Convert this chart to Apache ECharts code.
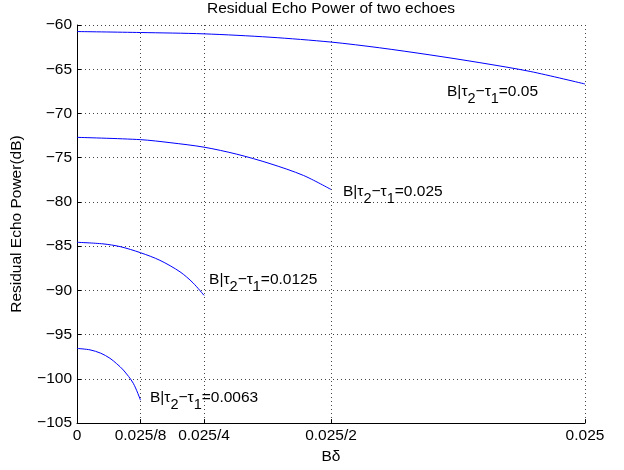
<!DOCTYPE html>
<html>
<head>
<meta charset="utf-8">
<script src="https://cdn.jsdelivr.net/npm/echarts@6/dist/echarts.min.js"></script>
<style>
  html, body { margin: 0; padding: 0; background: #fff; }
  #chart { width: 624px; height: 470px; }
</style>
</head>
<body>
<div id="chart"></div>
<script>
// Tick positions and their labels on the Bδ axis
const xTicks = [0, 0.003125, 0.00625, 0.0125, 0.025];
const xTickLabels = ['0', '0.025/8', '0.025/4', '0.025/2', '0.025'];

// Residual echo power (dB) versus Bδ for each echo spacing
const bdA = [0, 0.003125, 0.00625, 0.0095, 0.0125, 0.0149, 0.01737, 0.01983, 0.0223, 0.025];
const pwrA = [-60.74, -60.85, -61.0, -61.38, -61.93, -62.58, -63.38, -64.26, -65.25, -66.67];

const bdB = [0, 0.003125, 0.00458, 0.00625, 0.00786, 0.0095, 0.01114, 0.0125];
const pwrB = [-72.7, -72.96, -73.3, -73.81, -74.6, -75.67, -77.0, -78.59];

const bdC = [0, 0.00128, 0.00212, 0.003125, 0.00408, 0.00507, 0.00571, 0.00625];
const pwrC = [-84.56, -84.74, -85.05, -85.74, -86.6, -87.9, -89.15, -90.56];

const bdD = [0, 0.00064, 0.00117, 0.00162, 0.00194, 0.00228, 0.00277, 0.003125];
const pwrD = [-96.56, -96.72, -97.1, -97.67, -98.26, -99.0, -100.5, -102.41];

// Spacing values written next to each curve, with the label anchor in data units
const spacings = ['0.05', '0.025', '0.0125', '0.0063'];
const labelAt = [[0.01821, -67.67], [0.01309, -78.96], [0.0065, -88.85], [0.00359, -102.2]];

const FONT = 'Liberation Sans, Arial, Helvetica, sans-serif';
const FS = 15.5;
const minus = s => String(s).replace('-', '\u2212');

function pairs(xs, ys) { return xs.map((x, i) => [x, ys[i]]); }

function curve(xs, ys, idx) {
  return {
    type: 'line',
    data: pairs(xs, ys),
    smooth: 0.3,
    symbol: 'none',
    lineStyle: { color: '#0000ff', width: 1 },
    silent: true,
    markPoint: {
      symbol: 'circle',
      symbolSize: 0,
      data: [{ coord: labelAt[idx], value: spacings[idx] }],
      label: {
        show: true,
        position: 'right',
        distance: 0,
        formatter: p => '{t|B|τ}{s|2}{t|\u2212τ}{s|1}{t|=' + p.value + '}',
        rich: {
          t: { fontSize: FS, fontFamily: FONT, color: '#000', lineHeight: 18, verticalAlign: 'top' },
          s: { fontSize: FS - 1, fontFamily: FONT, color: '#000', lineHeight: 18, verticalAlign: 'top', padding: [8, 0, 0, 0] }
        }
      }
    }
  };
}

const dotted = { color: '#444', width: 1, type: [1, 3] };

const chart = echarts.init(document.getElementById('chart'), null, { renderer: 'canvas' });
chart.setOption({
  animation: false,
  backgroundColor: '#fff',
  title: {
    text: 'Residual Echo Power of two echoes',
    left: 331, top: 1, textAlign: 'center', padding: 0,
    textStyle: { fontSize: FS, fontWeight: 'normal', fontFamily: FONT, color: '#000' }
  },
  grid: { left: 77, right: 39, top: 25, bottom: 40, containLabel: false },
  xAxis: {
    type: 'value',
    min: 0, max: 0.025,
    name: 'Bδ', nameLocation: 'middle', nameGap: 21,
    nameTextStyle: { fontSize: FS, fontFamily: FONT, color: '#000' },
    axisLine: { show: true, lineStyle: { color: '#000', width: 1 } },
    axisTick: { show: true, inside: true, length: 4, customValues: xTicks, lineStyle: { color: '#000' } },
    axisLabel: {
      customValues: xTicks, margin: 5,
      fontSize: FS, fontFamily: FONT, color: '#000',
      formatter: v => { const i = xTicks.findIndex(t => Math.abs(t - v) < 1e-9); return i >= 0 ? xTickLabels[i] : ''; }
    },
    splitLine: { show: true, lineStyle: dotted }
  },
  yAxis: {
    type: 'value',
    min: -105, max: -60, interval: 5,
    name: 'Residual Echo Power(dB)', nameLocation: 'middle', nameGap: 52,
    nameTextStyle: { fontSize: FS, fontFamily: FONT, color: '#000' },
    axisLine: { show: true, lineStyle: { color: '#000', width: 1 } },
    axisTick: { show: true, inside: true, length: 4, lineStyle: { color: '#000' } },
    axisLabel: { fontSize: FS, fontFamily: FONT, color: '#000', margin: 5, formatter: minus },
    splitLine: { show: true, lineStyle: dotted }
  },
  series: [
    curve(bdA, pwrA, 0),
    curve(bdB, pwrB, 1),
    curve(bdC, pwrC, 2),
    curve(bdD, pwrD, 3)
  ]
});
</script>
</body>
</html>
